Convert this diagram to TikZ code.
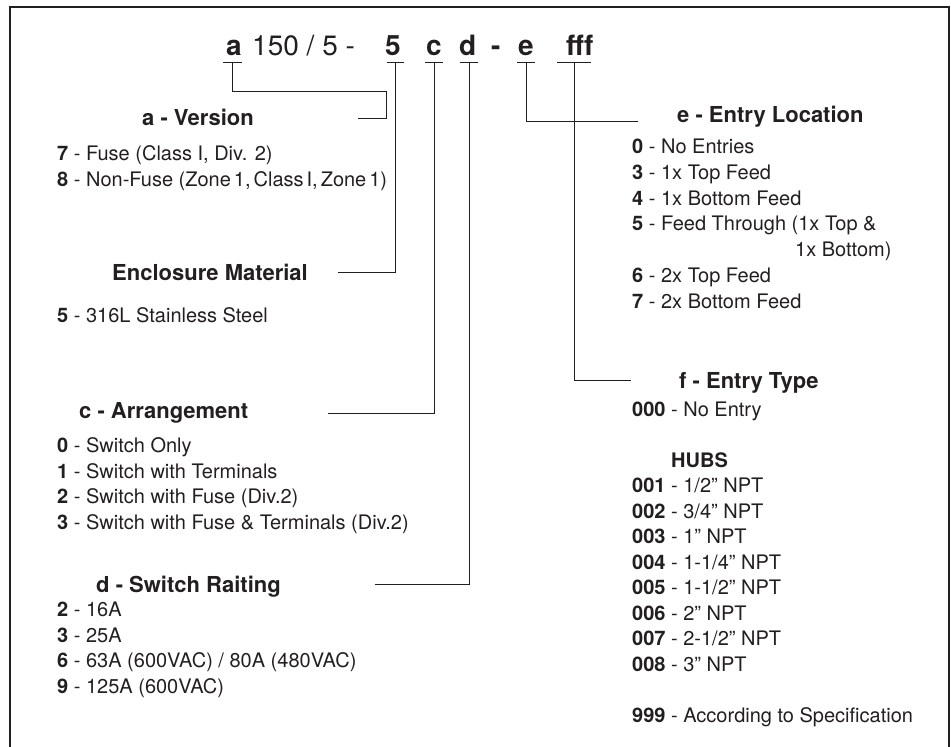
\documentclass[tikz,border=0pt]{standalone}
\usepackage{fontspec}
\setmainfont{TeX Gyre Heros}
\usetikzlibrary{positioning}
\definecolor{tinte}{HTML}{231F20}

\begin{document}
\begin{tikzpicture}[x=1pt, y=-1pt,
    kopf/.style={font=\fontsize{28}{30}\selectfont\bfseries, inner sep=0pt,
      anchor=base west, text=tinte},
    titel/.style={font=\fontsize{22}{24}\selectfont\bfseries, inner sep=0pt,
      anchor=base west, text=tinte},
    liste/.style={font=\fontsize{20}{25.5}\selectfont, inner sep=0pt,
      anchor=base west, align=left, text=tinte},
    linie/.style={draw=tinte, line width=1pt},
    marke/.style={inner sep=0pt, minimum height=0pt,
      append after command={(\tikzlastnode.west) edge[linie] (\tikzlastnode.east)}},
    rahmen/.style={draw=tinte, line width=2pt}]
  \useasboundingbox (0,0) rectangle (951,747);
  \draw[rahmen] (10,747) |- (949,7) -- (949,747);

  % Typenschluessel
  \node[kopf] (ka) at (226,55) {a};
  \node[kopf, font=\fontsize{28}{30}\selectfont] (kfest) at (252,55) {150 / 5 -};
  \node[kopf] (k5) at (385,55) {5};
  \node[kopf] (kc) at (426,55) {c};
  \node[kopf] (kd) at (459,55) {d};
  \node[kopf] (kstrich) at (491,55) {-};
  \node[kopf] (ke) at (518,55) {e};
  \node[kopf] (kf) at (566,55) {fff};
  \node[marke, minimum width=19pt] (ma) at (232.5,62) {};
  \node[marke, minimum width=17pt] (m5) at (395.5,62) {};
  \node[marke, minimum width=18pt] (mc) at (434,62) {};
  \node[marke, minimum width=18pt] (md) at (469,62) {};
  \node[marke, minimum width=18pt] (me) at (526,62) {};
  \node[marke, minimum width=34pt] (mf) at (574,62) {};

  % linke Spalte (Listen stehen auf der Grundlinie ihrer letzten Zeile)
  \node[titel] (ta) at (142,125) {a - Version};
  \node[liste] (la) at (57,186) {\textbf{7} - Fuse (Class I, Div. 2)\\
    \textbf{8} - Non-Fuse ({\spaceskip=3pt Zone 1, Class I, Zone 1})};
  \node[titel] (tm) at (112,280) {Enclosure Material};
  \node[liste] (lm) at (57,322) {\textbf{5} - 316L Stainless Steel};
  \node[titel] (tc) at (79,418) {c - Arrangement};
  \node[liste] (lc) at (57,529) {\textbf{0} - Switch Only\\
    \textbf{1} - Switch with Terminals\\
    \textbf{2} - Switch with Fuse (Div.2)\\
    \textbf{3} - Switch with Fuse \& Terminals (Div.2)};
  \node[titel] (td) at (96,592) {d - Switch Raiting};
  \node[liste] (ld) at (57,693) {\textbf{2} - 16A\\
    \textbf{3} - 25A\\
    \textbf{6} - 63A (600VAC) / 80A (480VAC)\\
    \textbf{9} - 125A (600VAC)};

  % rechte Spalte
  \node[titel] (te) at (677,122) {e - Entry Location};
  \node[liste, font=\fontsize{20}{25.7}\selectfont] (le) at (632,308) {\textbf{0} - No Entries\\
    \textbf{3} - 1x Top Feed\\
    \textbf{4} - 1x Bottom Feed\\
    \textbf{5} - Feed Through (1x Top \&\\
    \hspace*{163pt}1x Bottom)\\
    \textbf{6} - 2x Top Feed\\
    \textbf{7} - 2x Bottom Feed};
  \node[titel] (tf) at (679,388) {f - Entry Type};
  \node[liste] (lf) at (632,722) {\textbf{000} - No Entry\\[25.5pt]
    \hspace*{39pt}\textbf{HUBS}\\
    \textbf{001} - 1/2” NPT\\
    \textbf{002} - 3/4” NPT\\
    \textbf{003} - 1” NPT\\
    \textbf{004} - 1-1/4” NPT\\
    \textbf{005} - 1-1/2” NPT\\
    \textbf{006} - 2” NPT\\
    \textbf{007} - 2-1/2” NPT\\
    \textbf{008} - 3” NPT\\[25.5pt]
    \textbf{999} - According to Specification};

  % Verbindungen
  \coordinate (kna) at (386,91);
  \coordinate (enda) at (358,118);
  \coordinate (endm) at (338,272);
  \coordinate (endc) at (328,413);
  \coordinate (endd) at (375,584);
  \coordinate (ende) at (638,121);
  \coordinate (endf) at (631,380);
  \draw[linie] (ma.center) |- (kna) |- (enda);
  \draw[linie] (m5.center) |- (endm);
  \draw[linie] (mc.center) |- (endc);
  \draw[linie] (md.center) |- (endd);
  \draw[linie] (me.center) |- (ende);
  \draw[linie] (mf.center) |- (endf);
\end{tikzpicture}
\end{document}
